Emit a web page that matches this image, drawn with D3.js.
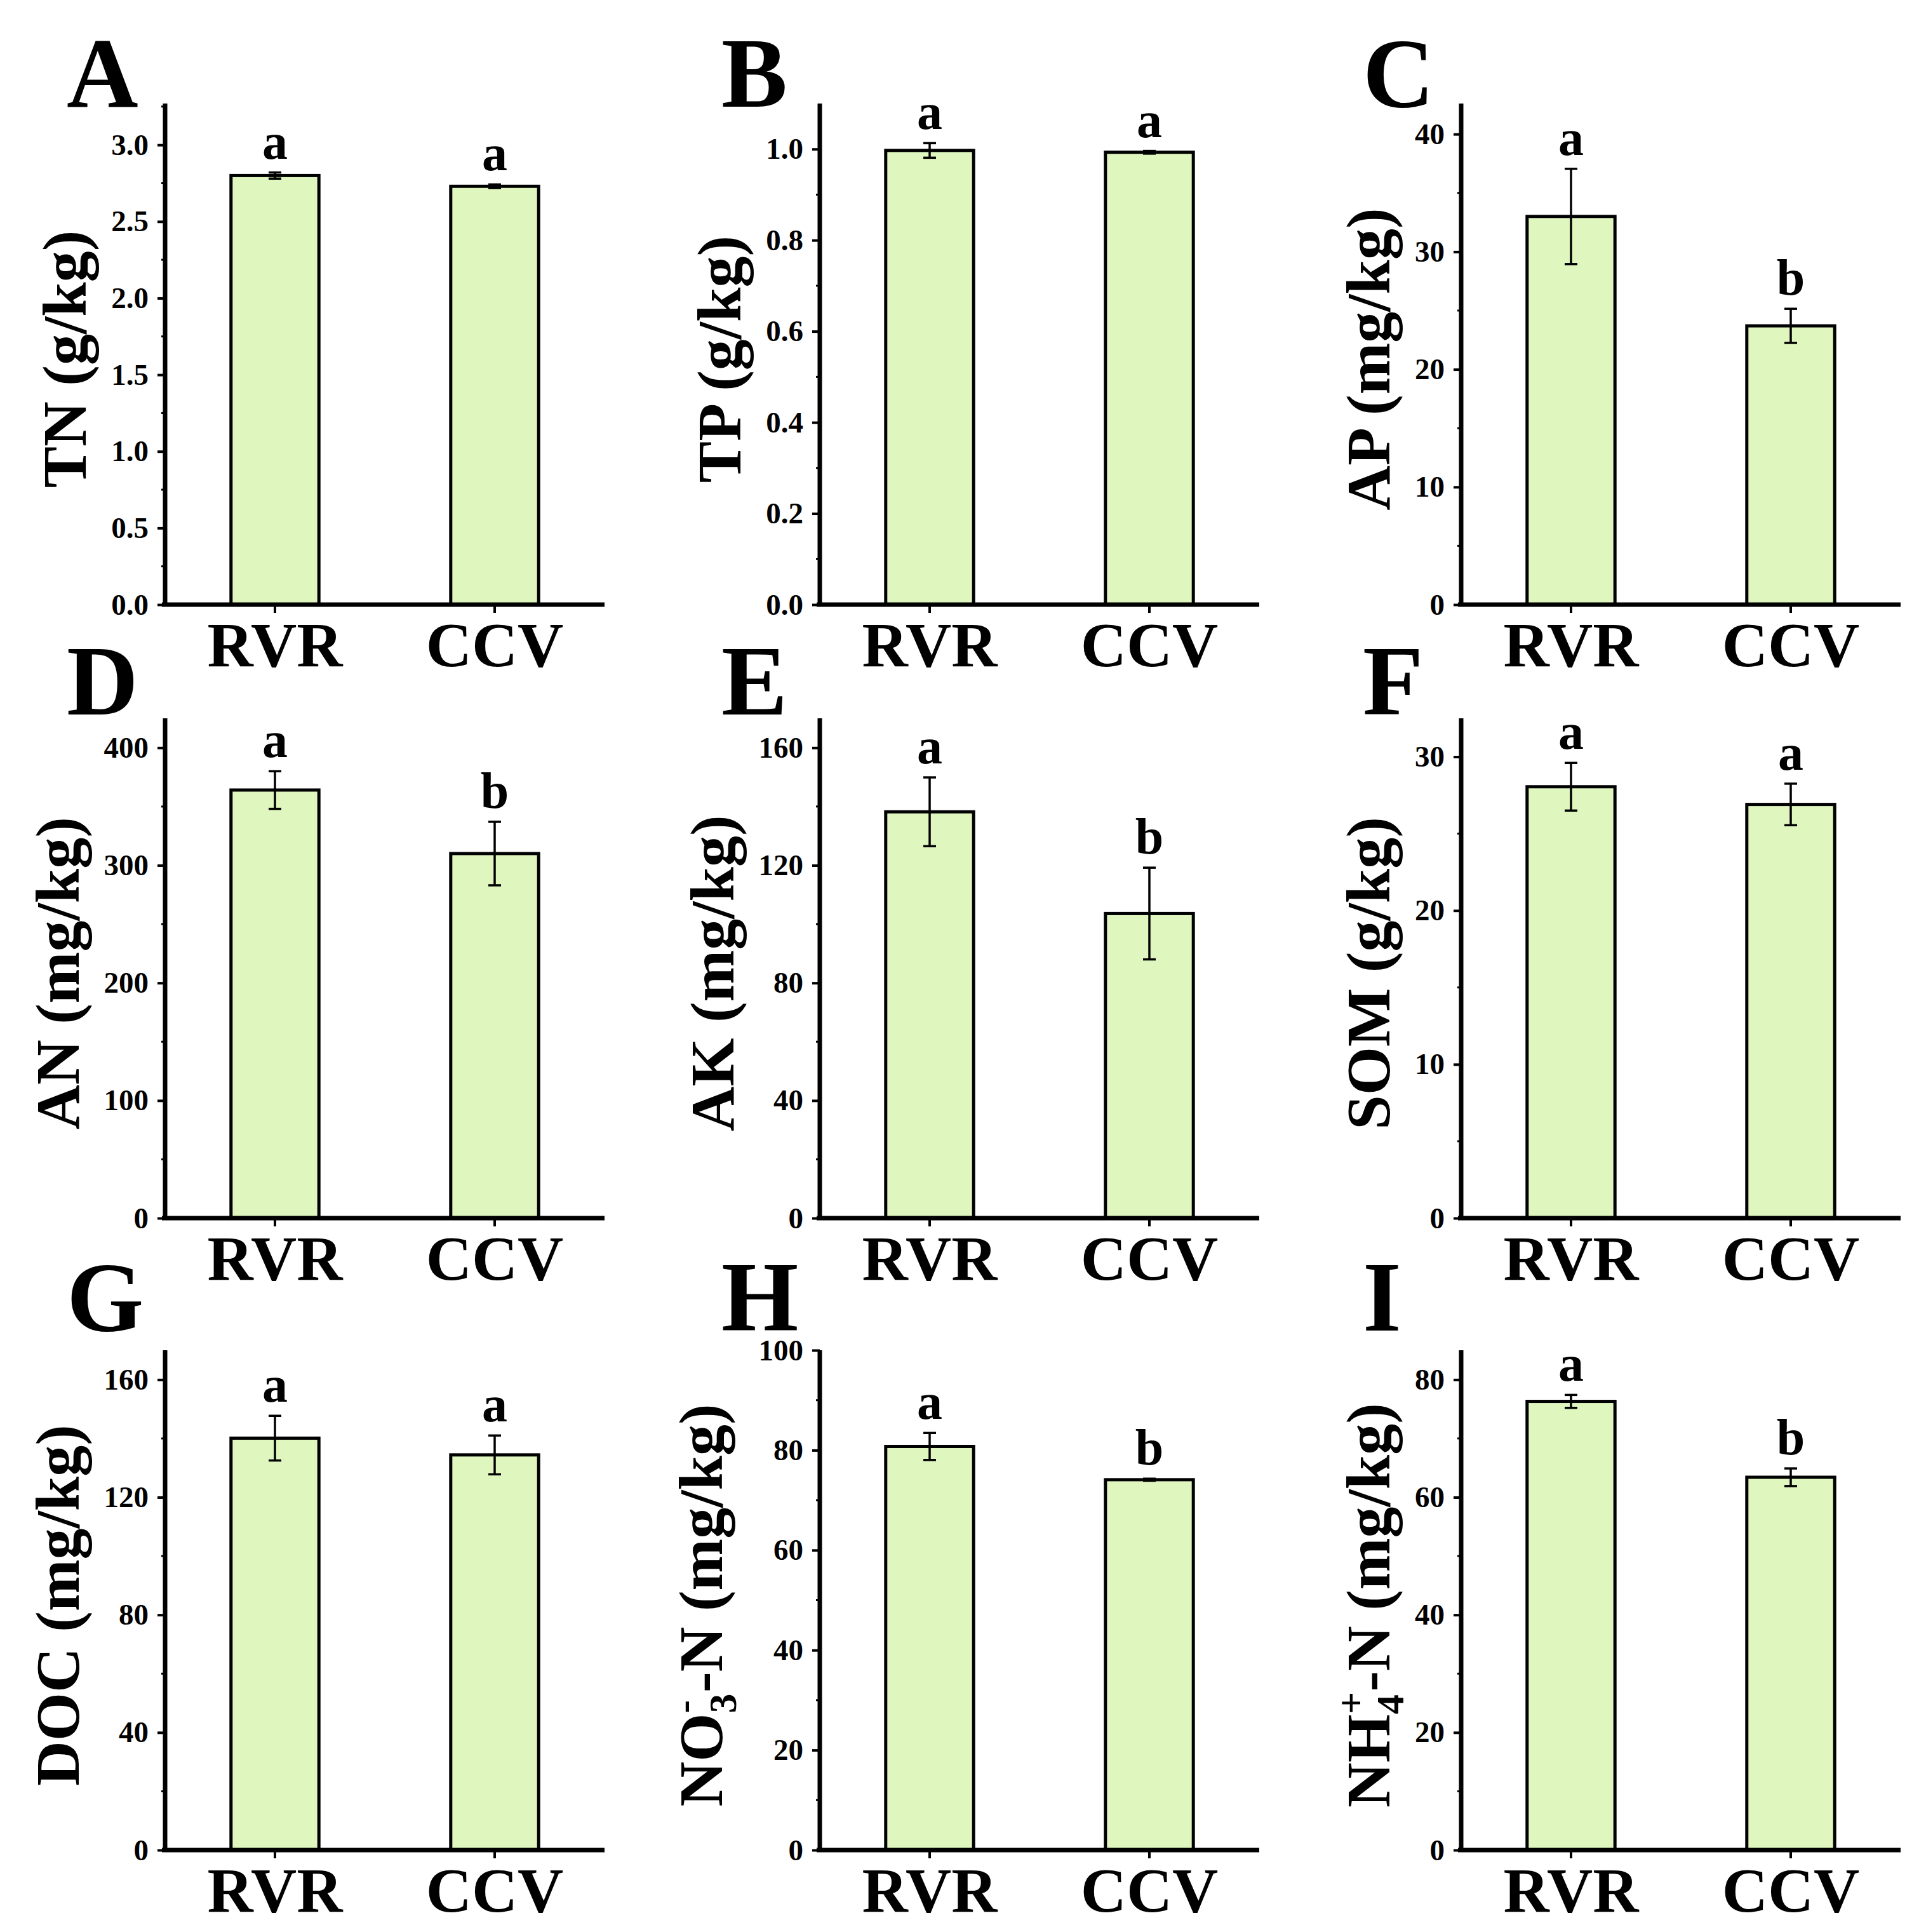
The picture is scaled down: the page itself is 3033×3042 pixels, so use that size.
<!DOCTYPE html>
<html>
<head>
<meta charset="utf-8">
<script src="https://cdn.jsdelivr.net/npm/d3@7"></script>
<style>
  body { margin: 0; background: #fff; }
  text { font-family: "Liberation Serif", "Times New Roman", serif; font-weight: bold; fill: #000; }
</style>
</head>
<body>
<svg id="fig"></svg>
<script>
// values (mean, +/- error, significance letter)
var categories = ["RVR", "CCV"];
var panelLetters = ["A", "B", "C", "D", "E", "F", "G", "H", "I"];
var yTitles = ["TN (g/kg)", "TP (g/kg)", "AP (mg/kg)", "AN (mg/kg)", "AK (mg/kg)",
               "SOM (g/kg)", "DOC (mg/kg)", "NO3-N (mg/kg)", "NH4+-N (mg/kg)"];
var means = [[2.80, 2.73], [0.997, 0.993], [33.0, 23.7], [364, 310], [138.2, 103.6],
             [28.05, 26.9], [140.1, 134.4], [80.75, 74.1], [76.3, 63.4]];
var errors = [[0.02, 0.012], [0.016, 0.003], [4.05, 1.45], [16, 27], [11.7, 15.6],
              [1.55, 1.35], [7.6, 6.6], [2.7, 0.2], [1.1, 1.5]];
var sigLetters = [["a", "a"], ["a", "a"], ["a", "b"], ["a", "b"], ["a", "b"],
                  ["a", "a"], ["a", "a"], ["a", "b"], ["a", "b"]];
var yMax = [3.27, 1.1, 42.6, 425, 170, 32.5, 170, 100, 85];
var tickStep = [0.5, 0.2, 10, 100, 40, 10, 40, 20, 20];
var tickFormat = [".1f", ".1f", "d", "d", "d", "d", "d", "d", "d"];

var svgW = 3033;
var svgH = 3042;

// grid layout
var colX = [260, 1291, 2301];
var rowTop = [163, 1131, 2126];
var rowBottom = [952, 1918, 2913];
var letterBase = [168, 1125, 2095];
var axisW = 692;
var barFill = "#dff7bf";

var svg = d3.select("#fig")
  .attr("width", svgW)
  .attr("height", svgH);

svg.append("rect").attr("width", svgW).attr("height", svgH).attr("fill", "#fff");

panelLetters.forEach(function(letter, i){
  var col = i % 3;
  var row = Math.floor(i / 3);
  var x0 = colX[col];
  var top = rowTop[row];
  var bottom = rowBottom[row];

  var g = svg.append("g").attr("transform", "translate(" + x0 + ",0)");

  var x = d3.scaleBand()
    .domain(categories)
    .range([0, axisW])
    .paddingInner(0.6)
    .paddingOuter(0.3);

  var y = d3.scaleLinear()
    .domain([0, yMax[i]])
    .range([bottom, top]);

  var majors = d3.range(0, yMax[i] + 1e-9, tickStep[i]);
  var minors = d3.range(tickStep[i] / 2, yMax[i], tickStep[i]);

  var rows = categories.map(function(c, k){
    return {cat: c, mean: means[i][k], err: errors[i][k], sig: sigLetters[i][k]};
  });

  // bars
  g.selectAll("rect.bar")
    .data(rows)
    .enter()
    .append("rect")
      .attr("class", "bar")
      .attr("x", function(d){ return x(d.cat); })
      .attr("width", x.bandwidth())
      .attr("y", function(d){ return y(d.mean); })
      .attr("height", function(d){ return bottom - y(d.mean); })
      .attr("fill", barFill)
      .attr("stroke", "#000")
      .attr("stroke-width", 5);

  // error bars
  var eb = g.selectAll("g.err")
    .data(rows)
    .enter()
    .append("g")
      .attr("class", "err")
      .attr("transform", function(d){ return "translate(" + (x(d.cat) + x.bandwidth() / 2) + ",0)"; });

  eb.append("line")
    .attr("y1", function(d){ return y(d.mean + d.err); })
    .attr("y2", function(d){ return y(d.mean - d.err); })
    .attr("stroke", "#000").attr("stroke-width", 3.5);
  eb.append("line")
    .attr("x1", -10).attr("x2", 10)
    .attr("y1", function(d){ return y(d.mean + d.err); })
    .attr("y2", function(d){ return y(d.mean + d.err); })
    .attr("stroke", "#000").attr("stroke-width", 3.5);
  eb.append("line")
    .attr("x1", -10).attr("x2", 10)
    .attr("y1", function(d){ return y(d.mean - d.err); })
    .attr("y2", function(d){ return y(d.mean - d.err); })
    .attr("stroke", "#000").attr("stroke-width", 3.5);

  eb.append("text")
    .attr("y", function(d){ return y(d.mean + d.err) - 22; })
    .attr("text-anchor", "middle")
    .style("font-size", "80px")
    .text(function(d){ return d.sig; });

  // y axis
  var yAxis = d3.axisLeft(y)
    .tickValues(majors)
    .tickFormat(d3.format(tickFormat[i]))
    .tickSize(12)
    .tickPadding(14);

  var ya = g.append("g").call(yAxis);
  ya.select(".domain").remove();
  ya.selectAll(".tick line").attr("stroke", "#000").attr("stroke-width", 4);
  ya.selectAll(".tick text")
    .attr("fill", "#000")
    .style("font-family", "'Liberation Serif', serif")
    .style("font-weight", "bold")
    .style("font-size", "47px");

  g.selectAll("line.minor")
    .data(minors)
    .enter()
    .append("line")
      .attr("class", "minor")
      .attr("x1", -6).attr("x2", 0)
      .attr("y1", function(d){ return y(d); })
      .attr("y2", function(d){ return y(d); })
      .attr("stroke", "#000").attr("stroke-width", 3);

  g.append("line")
    .attr("x1", 0).attr("x2", 0)
    .attr("y1", bottom + 3).attr("y2", top)
    .attr("stroke", "#000").attr("stroke-width", 7);

  // x axis
  g.append("line")
    .attr("x1", -5).attr("x2", axisW)
    .attr("y1", bottom).attr("y2", bottom)
    .attr("stroke", "#000").attr("stroke-width", 7);

  g.selectAll("line.xtick")
    .data(categories)
    .enter()
    .append("line")
      .attr("class", "xtick")
      .attr("x1", function(d){ return x(d) + x.bandwidth() / 2; })
      .attr("x2", function(d){ return x(d) + x.bandwidth() / 2; })
      .attr("y1", bottom).attr("y2", bottom + 13)
      .attr("stroke", "#000").attr("stroke-width", 4);

  g.selectAll("text.cat")
    .data(categories)
    .enter()
    .append("text")
      .attr("class", "cat")
      .attr("x", function(d){ return x(d) + x.bandwidth() / 2; })
      .attr("y", bottom + 97)
      .attr("text-anchor", "middle")
      .style("font-size", "100px")
      .text(function(d){ return d; });

  // y title, placed left of the widest tick label
  var maxW = d3.max(ya.selectAll(".tick text").nodes(), function(n){ return n.getComputedTextLength(); });
  var extra = (i == 7) ? 18 : 0;
  var titleX = -12 - 14 - maxW - 40 - extra;
  var titleY = (top + bottom) / 2 + 8;
  var title = g.append("text")
    .attr("transform", "translate(" + titleX + "," + titleY + ") rotate(-90)")
    .attr("text-anchor", "middle")
    .style("font-size", "98px");

  if (i == 7 || i == 8){
    var head = (i == 7) ? "NO" : "NH";
    var sub = (i == 7) ? "3" : "4";
    var sup = (i == 7) ? "-" : "+";
    title.append("tspan").text(head);
    title.append("tspan").attr("dy", 22).style("font-size", "62px").text(sub);
    title.append("tspan").attr("dx", -31).attr("dy", -62).style("font-size", "62px").text(sup);
    title.append("tspan").attr("dx", (i == 7) ? 12 : 0).attr("dy", 40).text("-N (mg/kg)");
  } else {
    title.text(yTitles[i]);
  }

  // panel letter
  svg.append("text")
    .attr("x", x0 - 155)
    .attr("y", letterBase[row])
    .style("font-size", "156px")
    .text(letter);
});
</script>
</body>
</html>
